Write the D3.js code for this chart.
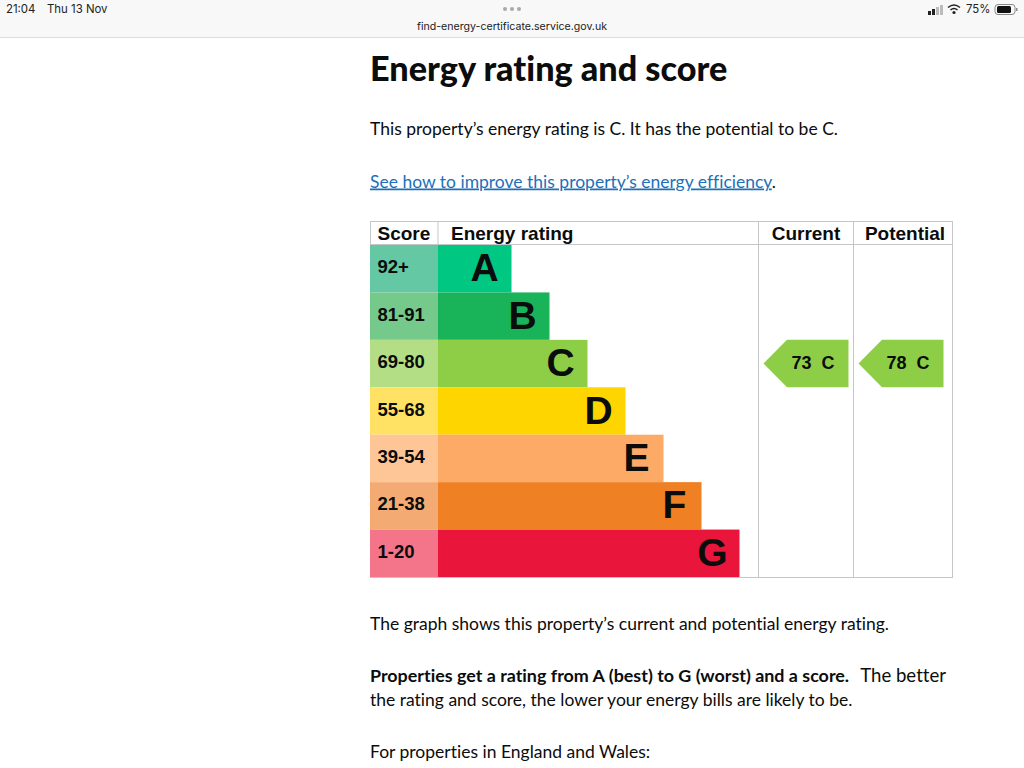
<!DOCTYPE html>
<meta charset="utf-8">
<style>
html, body { margin: 0; background: #fff; overflow: hidden; }
svg { display: block; }
.status { font-family: "Inter", sans-serif; font-size: 11.4px; fill: #222; }
.status.url { font-size: 10.6px; }
.copy { font-family: "Lato", sans-serif; font-size: 17.5px; fill: #0b0c0c; font-variant-ligatures: none; }
.title { font-family: "Lato", sans-serif; font-size: 34.2px; font-weight: 900; fill: #0b0c0c; font-variant-ligatures: none; }
.link { fill: #1d70b8; text-decoration: underline; }
.chart text { font-family: "Liberation Sans", Arial, sans-serif; font-weight: 700; fill: #0b0c0c; }
.chart .head { font-size: 19px; }
.chart .band { font-size: 18.5px; }
.chart .letter { font-size: 39px; }
.chart .flag { font-size: 18px; }
.grid { stroke: #c4c6c8; stroke-width: 1; fill: none; }
</style>
<body>
<svg id="page" width="1024" height="768"></svg>

<script src="https://cdn.jsdelivr.net/npm/d3@7"></script>
<script>
"use strict";

var ratings = ["A", "B", "C", "D", "E", "F", "G"];
var scoreBands = ["92+", "81-91", "69-80", "55-68", "39-54", "21-38", "1-20"];
var barSteps = [1, 2, 3, 4, 5, 6, 7];
var barColors = ["#00c781", "#19b459", "#8dce46", "#ffd500", "#fcaa65", "#ef8023", "#e9153b"];
var bandColors = ["#64c8a5", "#75ca8b", "#b4de85", "#ffe264", "#fec596", "#f4ab73", "#f4748a"];
var columns = ["Score", "Energy rating", "Current", "Potential"];
var flagColumns = ["Current", "Potential"];
var flagScores = [73, 78];
var flagRatings = ["C", "C"];

var svg = d3.select("#page");

// browser bar
var bar = svg.append("g");
bar.append("rect").attr("width", 1024).attr("height", 37).attr("fill", "#f8f8f8");
bar.append("line").attr("x1", 0).attr("x2", 1024).attr("y1", 37.5).attr("y2", 37.5).attr("stroke", "#dcdcdc");
bar.append("text").attr("class", "status").attr("x", 6).attr("y", 13).text("21:04");
bar.append("text").attr("class", "status").attr("x", 47).attr("y", 13).text("Thu 13 Nov");
bar.append("text").attr("class", "status url").attr("x", 512).attr("y", 30).attr("text-anchor", "middle").text("find-energy-certificate.service.gov.uk");
bar.selectAll(".dot").data([505, 512, 519]).join("circle")
    .attr("cx", function(d) { return d; }).attr("cy", 9).attr("r", 2).attr("fill", "#a9a9a9");
bar.selectAll(".signal").data([0, 1, 2, 3]).join("rect")
    .attr("x", function(d) { return 928 + d * 4; })
    .attr("y", function(d) { return 11 - d * 2; })
    .attr("width", 3)
    .attr("height", function(d) { return 4 + d * 2; })
    .attr("fill", function(d) { return d < 2 ? "#222" : "#bbb"; });
bar.append("path").attr("fill", "none").attr("stroke", "#222").attr("stroke-width", 1.6)
    .attr("d", "M948 7.5Q954 2.5 960 7.5M950.5 10Q954 7 957.5 10");
bar.append("circle").attr("cx", 954).attr("cy", 12.5).attr("r", 1.6).attr("fill", "#222");
bar.append("text").attr("class", "status").attr("x", 966).attr("y", 13).text("75%");
bar.append("rect").attr("x", 995).attr("y", 4.5).attr("width", 20).attr("height", 10).attr("rx", 3)
    .attr("fill", "none").attr("stroke", "#888");
bar.append("rect").attr("x", 997).attr("y", 6).attr("width", 14).attr("height", 7).attr("rx", 1.5).attr("fill", "#111");
bar.append("rect").attr("x", 1016).attr("y", 8).attr("width", 1.5).attr("height", 3).attr("fill", "#888");

// page copy
svg.append("text").attr("class", "title").attr("x", 370).attr("y", 81).text("Energy rating and score");
svg.append("text").attr("class", "copy").attr("x", 370).attr("y", 135)
    .text("This property\u2019s energy rating is C. It has the potential to be C.");
var linkLine = svg.append("text").attr("class", "copy").attr("x", 370).attr("y", 187.5);
linkLine.append("tspan").attr("class", "link").text("See how to improve this property\u2019s energy efficiency");
linkLine.append("tspan").text(".");
svg.append("text").attr("class", "copy").attr("x", 370).attr("y", 630)
    .text("The graph shows this property\u2019s current and potential energy rating.");
svg.append("text").attr("class", "copy").attr("x", 370).attr("y", 682)
    .attr("font-weight", 700).style("font-size", "17.9px")
    .text("Properties get a rating from A (best) to G (worst) and a score.");
svg.append("text").attr("class", "copy").attr("x", 946).attr("y", 682)
    .attr("text-anchor", "end").style("font-size", "18.6px").text("The better");
svg.append("text").attr("class", "copy").attr("x", 370).attr("y", 706)
    .text("the rating and score, the lower your energy bills are likely to be.");
svg.append("text").attr("class", "copy").attr("x", 370).attr("y", 758)
    .text("For properties in England and Wales:");

// chart
var chart = svg.append("g").attr("class", "chart");

var tableLeft = 370,
    tableRight = 953,
    tableTop = 221,
    headBottom = 245,
    tableBottom = 577,
    barLeft = 438,
    currentLeft = 758.5,
    potentialLeft = 853.5;

var y = d3.scaleBand().domain(ratings).range([headBottom, tableBottom]);
var barWidth = d3.scaleLinear().domain([1, 7]).range([73.5, 301.5]);
var colX = d3.scaleOrdinal().domain(flagColumns).range([currentLeft, potentialLeft]);

// grid first, the coloured cells sit on top of its left edge
chart.append("rect").attr("class", "grid")
    .attr("x", tableLeft + 0.5).attr("y", tableTop + 0.5)
    .attr("width", tableRight - tableLeft - 1).attr("height", tableBottom - tableTop);
chart.append("line").attr("class", "grid")
    .attr("x1", tableLeft).attr("x2", tableRight).attr("y1", headBottom - 0.5).attr("y2", headBottom - 0.5);
chart.append("line").attr("class", "grid")
    .attr("x1", barLeft).attr("x2", barLeft).attr("y1", tableTop).attr("y2", headBottom);
[currentLeft, potentialLeft].forEach(function(x) {
    chart.append("line").attr("class", "grid")
        .attr("x1", x).attr("x2", x).attr("y1", tableTop).attr("y2", tableBottom);
});

chart.selectAll(".score-cell").data(ratings).join("rect")
    .attr("class", "score-cell")
    .attr("x", tableLeft)
    .attr("y", function(d) { return y(d); })
    .attr("width", barLeft - tableLeft)
    .attr("height", y.bandwidth())
    .attr("fill", function(d, i) { return bandColors[i]; });

chart.selectAll(".rating-bar").data(ratings).join("rect")
    .attr("class", "rating-bar")
    .attr("x", barLeft)
    .attr("y", function(d) { return y(d); })
    .attr("width", function(d, i) { return barWidth(barSteps[i]); })
    .attr("height", y.bandwidth())
    .attr("fill", function(d, i) { return barColors[i]; });

var headX = [377.5, 451, 806, 905];
var headAnchor = ["start", "start", "middle", "middle"];
chart.selectAll(".head").data(columns).join("text")
    .attr("class", "head")
    .attr("x", function(d, i) { return headX[i]; })
    .attr("y", 240)
    .attr("text-anchor", function(d, i) { return headAnchor[i]; })
    .text(function(d) { return d; });

chart.selectAll(".band").data(ratings).join("text")
    .attr("class", "band")
    .attr("x", 377.5)
    .attr("y", function(d) { return y(d) + y.bandwidth() / 2 + 4.5; })
    .text(function(d, i) { return scoreBands[i]; });

chart.selectAll(".letter").data(ratings).join("text")
    .attr("class", "letter")
    .attr("x", function(d, i) { return barLeft + barWidth(barSteps[i]) - 27; })
    .attr("y", function(d) { return y(d) + y.bandwidth() / 2 + 12.5; })
    .attr("text-anchor", "middle")
    .text(function(d) { return d; });

var flagGroups = chart.selectAll(".flag-mark").data(flagColumns).join("g")
    .attr("class", "flag-mark")
    .attr("transform", function(d, i) { return "translate(" + colX(d) + "," + y(flagRatings[i]) + ")"; });

flagGroups.append("path")
    .attr("d", function() {
        var h = y.bandwidth();
        return "M5 " + h / 2 + "L28.5 0H90V" + h + "H28.5Z";
    })
    .attr("fill", function(d, i) { return barColors[ratings.indexOf(flagRatings[i])]; });

flagGroups.append("text")
    .attr("class", "flag")
    .attr("x", 33)
    .attr("y", y.bandwidth() / 2 + 5.5)
    .style("white-space", "pre")
    .text(function(d, i) { return flagScores[i] + "  " + flagRatings[i]; });
</script>
</body>
